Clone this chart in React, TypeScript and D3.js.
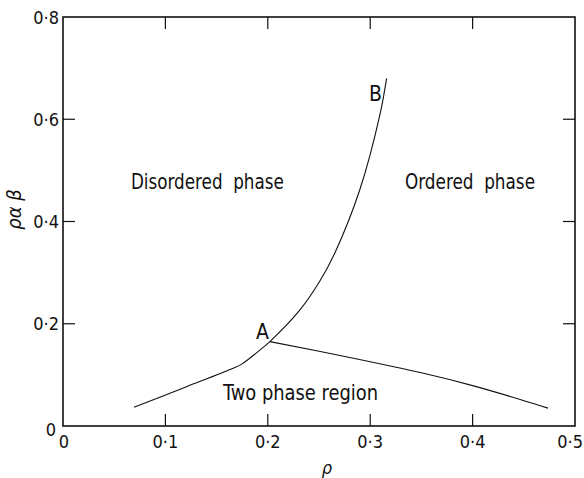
import React from "react";
import * as d3 from "d3";

// lower-left branch running into curve A-B (one continuous boundary)
const mainP = [0.0693, 0.12, 0.165, 0.1745, 0.192, 0.202, 0.231, 0.251, 0.2656, 0.29, 0.3096, 0.316];
const mainV = [0.0366, 0.0764, 0.112, 0.121, 0.148, 0.165, 0.226, 0.284, 0.339, 0.463, 0.61, 0.68];
// lower right branch starting at A
const rightP = [0.202, 0.28, 0.35, 0.4, 0.448, 0.4736];
const rightV = [0.165, 0.134, 0.104, 0.079, 0.051, 0.035];

const xTicks = [0, 0.1, 0.2, 0.3, 0.4, 0.5];
const yTicks = [0, 0.2, 0.4, 0.6, 0.8];
const fmt = (d: number) => (d === 0 ? "0" : d.toFixed(1).replace(".", "\u00b7"));

const labels = [
  { text: "Disordered  phase", p: 0.0663, v: 0.463, len: 153 },
  { text: "Ordered  phase", p: 0.3340, v: 0.463, len: 130 },
  { text: "Two phase region", p: 0.1563, v: 0.051, len: 155 },
  { text: "A", p: 0.1885, v: 0.171, len: 0 },
  { text: "B", p: 0.2988, v: 0.636, len: 0 },
];

const font = "'DejaVu Sans Condensed', 'Liberation Sans Narrow', 'Liberation Sans', sans-serif";

export default function App() {
  const W = 584, H = 478;
  const x = d3.scaleLinear().domain([0, 0.5]).range([63, 575]);
  const y = d3.scaleLinear().domain([0, 0.8]).range([426, 17]);

  const mk = (ps: number[], vs: number[]) =>
    d3
      .line<number>()
      .x((d) => x(d))
      .y((_, i) => y(vs[i]))
      .curve(d3.curveCatmullRom.alpha(0.5))(ps) as string;

  const tl = 12; // inward tick length

  return (
    <svg width={W} height={H} style={{ position: "absolute", left: 0, top: 0, background: "#fff" }}>
      {/* frame */}
      <rect x={x(0)} y={y(0.8)} width={x(0.5) - x(0)} height={y(0) - y(0.8)}
        fill="none" stroke="#111" strokeWidth={1.6} />

      {/* ticks on all four sides, pointing inward */}
      {xTicks.slice(1, -1).map((t) => (
        <g key={"xt" + t} stroke="#111" strokeWidth={1.2}>
          <line x1={x(t)} x2={x(t)} y1={y(0)} y2={y(0) - tl} />
          <line x1={x(t)} x2={x(t)} y1={y(0.8)} y2={y(0.8) + tl} />
        </g>
      ))}
      {yTicks.slice(1, -1).map((t) => (
        <g key={"yt" + t} stroke="#111" strokeWidth={1.2}>
          <line x1={x(0)} x2={x(0) + tl} y1={y(t)} y2={y(t)} />
          <line x1={x(0.5)} x2={x(0.5) - tl} y1={y(t)} y2={y(t)} />
        </g>
      ))}

      {/* tick labels */}
      <g fontFamily={font} fontSize={18} fill="#111">
        {xTicks.map((t) => (
          <text key={"xl" + t} x={t === 0.5 ? 583 : x(t) + (t === 0 ? 1 : 0)} y={448}
            textAnchor={t === 0.5 ? "end" : "middle"}>{fmt(t)}</text>
        ))}
        {yTicks.map((t) => (
          <text key={"yl" + t} x={t === 0 ? 56 : 59} y={y(t) + (t === 0 ? 3 : 0)} textAnchor="end" dominantBaseline="central">{fmt(t)}</text>
        ))}
      </g>

      {/* axis titles */}
      <text x={327} y={474} textAnchor="middle" fontFamily={font} fontStyle="italic" fontSize={18} fill="#111">ρ</text>
      <text transform={`translate(21,${y(0.4) - 12}) rotate(-90)`} textAnchor="middle"
        fontFamily={font} fontStyle="italic" fontSize={20} fill="#111">ρα β</text>

      {/* phase boundaries */}
      <g fill="none" stroke="#111" strokeWidth={1.1}>
        <path d={mk(mainP, mainV)} />
        <path d={mk(rightP, rightV)} />
      </g>

      {/* region labels */}
      <g fontFamily={font} fontSize={21} fill="#111">
        {labels.map((l) => (
          <text key={l.text} x={x(l.p)} y={y(l.v)} style={{ whiteSpace: "pre" }}
            {...(l.len ? { textLength: l.len, lengthAdjust: "spacingAndGlyphs" } : {})}>
            {l.text}
          </text>
        ))}
      </g>
    </svg>
  );
}
